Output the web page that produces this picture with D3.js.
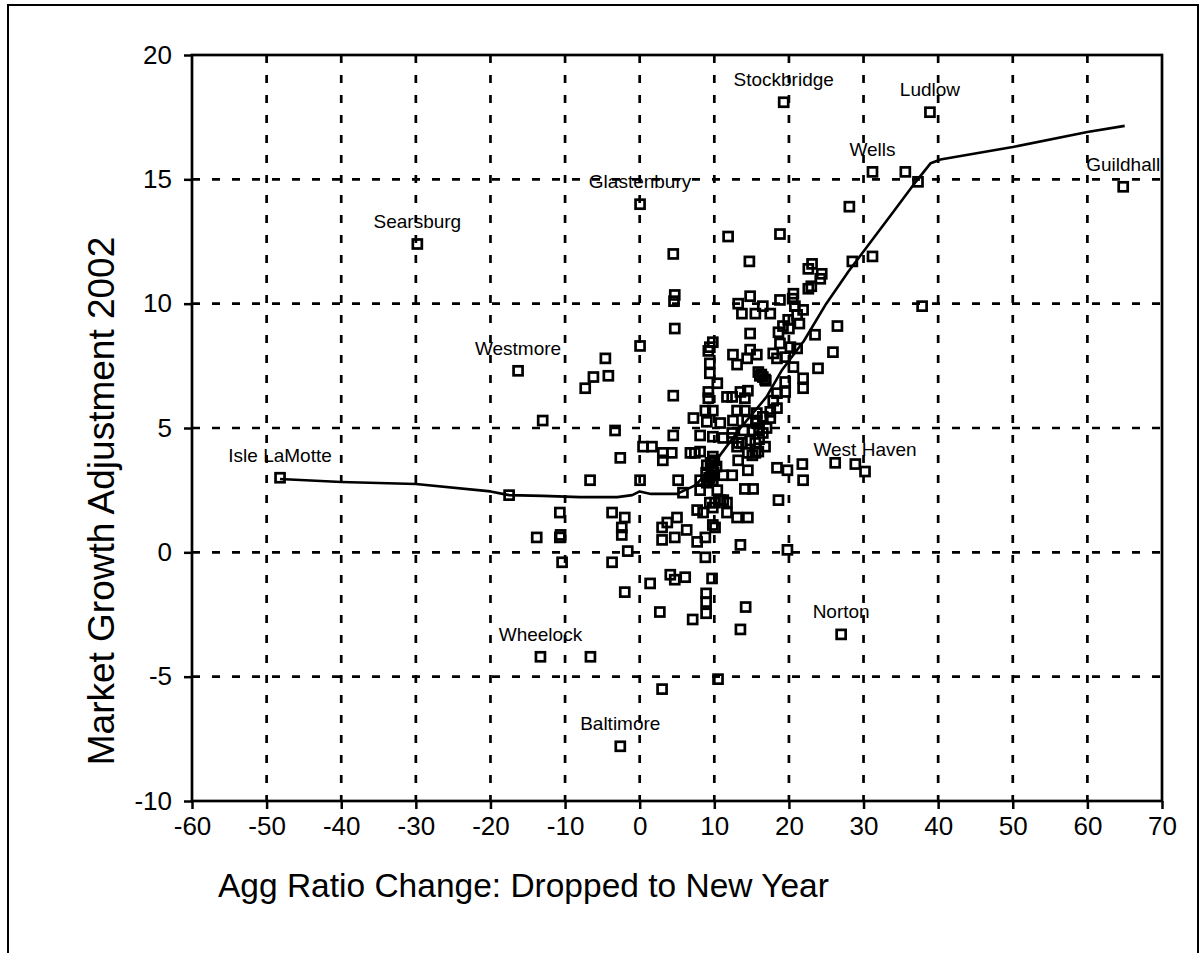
<!DOCTYPE html>
<html>
<head>
<meta charset="utf-8">
<script src="https://cdn.jsdelivr.net/npm/d3@7/dist/d3.min.js"></script>
<style>
  body { margin: 0; background: #fff; }
  svg { display: block; font-family: Arial, "Liberation Sans", sans-serif; }
</style>
</head>
<body>
<svg id="chart"></svg>
<script>

const width = 1202;
const height = 953;

// tick labels
const xTicks = [-60, -50, -40, -30, -20, -10, 0, 10, 20, 30, 40, 50, 60, 70];
const yTicks = [-10, -5, 0, 5, 10, 15, 20];

// named towns (these points carry a label)
const townNames  = ["Isle LaMotte", "Searsburg", "Westmore", "Wheelock", "Baltimore", "Glastenbury",
                    "Stockbridge", "Norton", "West Haven", "Wells", "Ludlow", "Guildhall"];
const townAgg    = [-48.2, -29.8, -16.3, -13.3, -2.6, 0.05, 19.3, 27.0, 30.2, 31.2, 38.9, 64.8];
const townGrowth = [3.0, 12.4, 7.3, -4.2, -7.8, 14.0, 18.1, -3.3, 3.25, 15.3, 17.7, 14.7];

// all other towns
const aggChange = [
  35.6, 37.3, 28.1, 11.85, 18.8, 4.5, 14.7, 28.5, 31.2, 23.1,
  22.6, 24.2, 23.0, 22.6, 24.4, 4.7, 4.6, 37.85, 26.5, 20.6,
  14.8, 13.2, 18.8, 20.8, 21.9, 21.1, 19.9, 19.2, 20.5, 13.7,
  15.5, 17.5, 16.5, 14.8, 18.6, 23.5, 25.9, 23.9, 21.1, 20.2,
  18.8, 17.9, 18.4, 19.5, 9.8, 9.4, 9.2, 14.8, 15.7, 12.5,
  13.05, 14.4, 9.4, 9.4, 15.9, 16.3, 16.5, 16.8, 20.6, 21.9,
  19.5, 18.4, 19.5, 21.9, 10.4, 4.5, 9.2, 9.2, 11.7, 12.4,
  13.5, 14.5, 14.1, 17.9, 18.4, 8.8, 9.8, 13.05, 14.1, 15.7,
  17.5, 7.2, 9.0, 10.8, 12.5, 14.4, 15.7, 17.5, 8.1, 9.8,
  12.4, 13.9, 15.2, 16.5, -3.3, 4.5, -13.0, -4.6, -4.2, -6.2,
  -7.3, 0.05, -17.5, -13.8, 4.7, -2.6, -6.65, 0.05, 5.15, 5.8,
  8.1, 0.45, 1.65, 3.1, 3.1, 4.3, 6.8, 7.4, 9.8, 9.0,
  9.6, 9.2, 9.8, 10.0, 9.3, 8.9, 11.2, 12.4, 13.2, 14.5,
  15.5, 15.1, 16.8, 18.4, 19.8, 21.8, 21.9, 26.2, 28.9, 14.1,
  15.2, 18.6, 19.8, 13.5, -10.7, -10.7, -10.6, -10.4, -3.7, -2.0,
  -2.4, -2.4, -1.6, -3.7, 3.0, 3.7, 5.0, 6.3, 3.0, 4.7,
  7.7, 8.8, 7.7, 8.5, 9.8, 11.7, 11.7, 13.05, 14.5, 10.1,
  9.8, 8.8, 1.4, 4.1, 4.7, 6.1, 9.7, -2.0, 8.9, 8.9,
  8.9, 7.1, 2.7, 14.2, 13.5, -6.6, 10.5, 3.0, 10.4, 10.8,
  8.1, 11.2, 13.2, 14.8, 16.0, 16.5, 17.0, 16.0, 15.5, 14.5,
  15.9, 13.05, 13.7, 12.4, 8.1, 9.0, 9.8, 9.4, 10.1, 11.2,
  9.5, 9.9, 10.3, 16.1, 16.9, 15.6, 21.4, 20.0
];
const growthAdj = [
  15.3, 14.9, 13.9, 12.7, 12.8, 12.0, 11.7, 11.7, 11.9, 11.6,
  11.4, 11.0, 10.7, 10.6, 11.2, 10.35, 10.1, 9.9, 9.1, 10.4,
  10.3, 10.0, 10.15, 9.9, 9.75, 9.55, 9.35, 9.1, 10.2, 9.6,
  9.6, 9.6, 9.9, 8.8, 8.85, 8.75, 8.05, 7.4, 8.2, 8.25,
  8.4, 8.0, 7.8, 7.85, 8.45, 8.25, 8.1, 8.15, 7.95, 7.95,
  7.55, 7.8, 7.6, 7.2, 7.25, 7.15, 7.05, 6.95, 7.45, 7.0,
  6.85, 6.4, 6.45, 6.6, 6.8, 6.3, 6.45, 6.2, 6.25, 6.25,
  6.45, 6.5, 6.2, 6.1, 5.8, 5.7, 5.7, 5.7, 5.7, 5.6,
  5.65, 5.4, 5.25, 5.2, 5.3, 5.3, 5.3, 5.4, 4.7, 4.65,
  4.8, 4.9, 4.9, 4.8, 4.9, 4.7, 5.3, 7.8, 7.1, 7.05,
  6.6, 8.3, 2.3, 0.6, 9.0, 3.8, 2.9, 2.9, 2.9, 2.4,
  4.05, 4.25, 4.25, 4.0, 3.7, 4.0, 4.0, 4.0, 3.85, 3.5,
  3.1, 2.9, 3.4, 3.7, 3.0, 3.2, 3.1, 3.1, 3.7, 3.3,
  4.0, 3.9, 4.25, 3.4, 3.3, 3.55, 2.9, 3.6, 3.55, 2.55,
  2.55, 2.1, 0.1, 0.3, 1.6, 0.6, 0.7, -0.4, 1.6, 1.4,
  1.0, 0.7, 0.05, -0.4, 1.0, 1.2, 1.4, 0.9, 0.5, 0.6,
  0.42, 0.6, 1.7, 1.6, 1.8, 2.0, 1.6, 1.4, 1.4, 1.0,
  1.1, -0.2, -1.25, -0.9, -1.1, -1.0, -1.05, -1.6, -1.65, -2.0,
  -2.45, -2.7, -2.4, -2.2, -3.1, -4.2, -5.1, -5.5, 2.5, 2.1,
  2.5, 4.6, 4.4, 4.5, 4.55, 5.45, 5.0, 5.0, 4.4, 4.0,
  4.05, 4.25, 4.4, 4.6, 2.9, 2.8, 2.9, 2.0, 2.0, 2.1,
  3.6, 3.2, 3.45, 7.1, 6.9, 5.2, 9.2, 9.0
];

// smoothed trend line
const trendAgg    = [-48.2, -40, -30, -20, -17.5, -13, -8, -3, -1, 0, 1.5, 5, 7.5, 9, 11,
                     13.5, 17, 19, 22, 25, 28, 31, 34, 37, 39, 40.3, 50, 60, 65];
const trendGrowth = [2.95, 2.83, 2.75, 2.45, 2.3, 2.27, 2.22, 2.22, 2.3, 2.45, 2.35, 2.35, 2.7, 3.2, 4.0,
                     5.0, 6.25, 7.3, 8.5, 10.0, 11.3, 12.5, 13.7, 14.9, 15.65, 15.8, 16.3, 16.9, 17.15];

const svg = d3.select("#chart")
              .attr("width", width)
              .attr("height", height);

svg.append("rect")
   .attr("width", width)
   .attr("height", height)
   .attr("fill", "#fff");

// outer frame
svg.append("path")
   .attr("d", `M8,${height} L8,5 L1198,5 L1198,${height}`)
   .attr("fill", "none")
   .attr("stroke", "#000")
   .attr("stroke-width", 2);

const xScale = d3.scaleLinear()
                 .domain([-60, 70])
                 .range([192, 1162]);

const yScale = d3.scaleLinear()
                 .domain([-10, 20])
                 .range([801, 55]);

// grid
svg.append("g")
   .selectAll("line")
   .data(xTicks.slice(1, -1))
   .enter()
   .append("line")
   .attr("x1", d => xScale(d))
   .attr("x2", d => xScale(d))
   .attr("y1", yScale(20))
   .attr("y2", yScale(-10))
   .attr("stroke", "#000")
   .attr("stroke-width", 2.7)
   .attr("stroke-dasharray", "8,12");

svg.append("g")
   .selectAll("line")
   .data(yTicks.slice(1, -1))
   .enter()
   .append("line")
   .attr("x1", xScale(-60))
   .attr("x2", xScale(70))
   .attr("y1", d => yScale(d))
   .attr("y2", d => yScale(d))
   .attr("stroke", "#000")
   .attr("stroke-width", 2.7)
   .attr("stroke-dasharray", "8,12");

// plot border
svg.append("rect")
   .attr("x", xScale(-60))
   .attr("y", yScale(20))
   .attr("width", xScale(70) - xScale(-60))
   .attr("height", yScale(-10) - yScale(20))
   .attr("fill", "none")
   .attr("stroke", "#000")
   .attr("stroke-width", 2.7);

let xAxis = d3.axisBottom(xScale)
              .tickValues(xTicks)
              .tickFormat(d => String(d))
              .tickSize(8)
              .tickPadding(8);

let yAxis = d3.axisLeft(yScale)
              .tickValues(yTicks)
              .tickFormat(d => String(d))
              .tickSize(8)
              .tickPadding(12);

const gx = svg.append("g")
              .attr("transform", `translate(0, ${yScale(-10)})`)
              .call(xAxis);

const gy = svg.append("g")
              .attr("transform", `translate(${xScale(-60)}, 0)`)
              .call(yAxis);

[gx, gy].forEach(g => {
  g.select(".domain").remove();
  g.selectAll(".tick line").attr("stroke", "#000").attr("stroke-width", 2.5);
  g.selectAll(".tick text")
   .attr("fill", "#000")
   .style("font-size", "26px")
   .style("font-family", "Arial, 'Liberation Sans', sans-serif");
});

// axis titles
svg.append("text")
   .attr("x", 218)
   .attr("y", 897)
   .style("font-size", "33.5px")
   .text("Agg Ratio Change: Dropped to New Year");

svg.append("text")
   .attr("transform", "translate(114, 501) rotate(-90)")
   .attr("text-anchor", "middle")
   .style("font-size", "37px")
   .text("Market Growth Adjustment 2002");

// trend line
const trendLine = d3.line()
                    .x(i => xScale(trendAgg[i]))
                    .y(i => yScale(trendGrowth[i]));

svg.append("path")
   .attr("d", trendLine(d3.range(trendAgg.length)))
   .attr("fill", "none")
   .attr("stroke", "#000")
   .attr("stroke-width", 2.6)
   .attr("stroke-linejoin", "round");

// points
const allAgg = aggChange.concat(townAgg);
const allGrowth = growthAdj.concat(townGrowth);

svg.append("g")
   .selectAll("rect")
   .data(d3.range(allAgg.length))
   .enter()
   .append("rect")
   .attr("x", i => xScale(allAgg[i]) - 4.5)
   .attr("y", i => yScale(allGrowth[i]) - 4.5)
   .attr("width", 9)
   .attr("height", 9)
   .attr("fill", "none")
   .attr("stroke", "#000")
   .attr("stroke-width", 2.7);

// town labels
svg.append("g")
   .selectAll("text")
   .data(townNames)
   .enter()
   .append("text")
   .attr("x", (d, i) => xScale(townAgg[i]))
   .attr("y", (d, i) => yScale(townGrowth[i]) - 16)
   .attr("text-anchor", "middle")
   .style("font-size", "19px")
   .text(d => d);

</script>
</body>
</html>
